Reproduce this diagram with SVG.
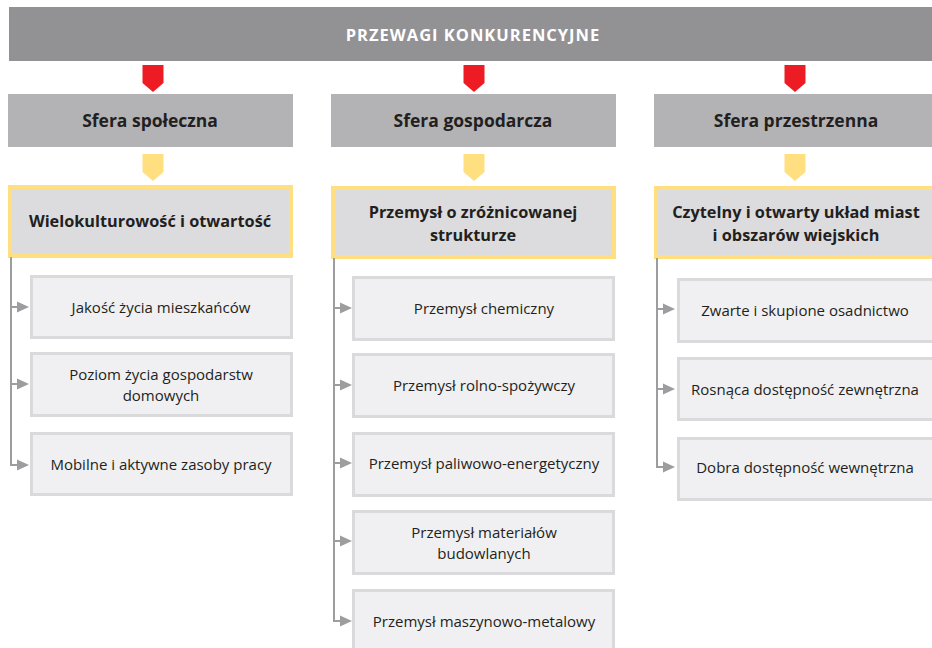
<svg xmlns="http://www.w3.org/2000/svg" width="932" height="648" viewBox="0 0 932 648">
<style>
text{font-family:"Open Sans","Noto Sans","Liberation Sans",sans-serif;fill:#231f20;text-anchor:middle;dominant-baseline:central}
.title{font-size:16.5px;font-weight:bold;fill:#ffffff;letter-spacing:1px}
.hdr{font-size:17.5px;font-weight:bold}
.key{font-size:16.3px;font-weight:bold}
.item{font-size:15px}
.hbox{fill:#b3b3b5}
.kbox{fill:#dcdcde;stroke:#ffdf7f;stroke-width:4}
.cbox{fill:#f0f0f2;stroke:#dadadc;stroke-width:3}
.red{fill:#ed1c24}
.yel{fill:#ffdf7f}
.ln{fill:none;stroke:#9d9d9f;stroke-width:2}
.ah{fill:#9d9d9f}
</style>
<defs>
<path id="redArr" class="red" d="M-10.5,65 H10.5 V83 L0,92 L-10.5,83 Z"/>
<path id="yelArr" class="yel" d="M-10.5,154 H10.5 V172 L0,181 L-10.5,172 Z"/>
<path id="tri" d="M0,-5.5 L12,0 L0,5.5 Z"/>
</defs>

<g id="top">
<rect x="9" y="7" width="923" height="54" fill="#929295"/>
<text class="title" x="473" y="34">PRZEWAGI KONKURENCYJNE</text>
</g>

<g id="arrows-red">
<use href="#redArr" x="153"/>
<use href="#redArr" x="474"/>
<use href="#redArr" x="795"/>
</g>

<g id="h1"><rect class="hbox" x="8" y="94" width="285" height="53"/><text class="hdr" x="150" y="120">Sfera społeczna</text></g>
<g id="h2"><rect class="hbox" x="331" y="94" width="285" height="53"/><text class="hdr" x="473" y="120">Sfera gospodarcza</text></g>
<g id="h3"><rect class="hbox" x="654" y="94" width="285" height="53"/><text class="hdr" x="796" y="120">Sfera przestrzenna</text></g>

<g id="arrows-yellow">
<use href="#yelArr" x="153"/>
<use href="#yelArr" x="474"/>
<use href="#yelArr" x="795"/>
</g>

<g id="k1"><rect class="kbox" x="10" y="187" width="281" height="69"/><text class="key" x="150" y="221">Wielokulturowość i otwartość</text></g>
<g id="k2"><rect class="kbox" x="333" y="188" width="281" height="69"/><text class="key" x="473" y="212">Przemysł o zróżnicowanej</text><text class="key" x="473" y="235">strukturze</text></g>
<g id="k3"><rect class="kbox" x="656" y="188" width="281" height="69"/><text class="key" x="796" y="212">Czytelny i otwarty układ miast</text><text class="key" x="796" y="235">i obszarów wiejskich</text></g>

<g id="connectors">
<path class="ln" d="M11,257 V465 H18"/>
<path class="ln" d="M11,307 H18 M11,384 H18"/>
<use href="#tri" class="ah" x="17" y="307"/>
<use href="#tri" class="ah" x="17" y="384"/>
<use href="#tri" class="ah" x="17" y="465"/>
<path class="ln" d="M334,258 V621 H341"/>
<path class="ln" d="M334,308 H341 M334,385 H341 M334,463 H341 M334,541 H341"/>
<use href="#tri" class="ah" x="340" y="308"/>
<use href="#tri" class="ah" x="340" y="385"/>
<use href="#tri" class="ah" x="340" y="463"/>
<use href="#tri" class="ah" x="340" y="541"/>
<use href="#tri" class="ah" x="340" y="621"/>
<path class="ln" d="M657,258 V467 H664"/>
<path class="ln" d="M657,309 H664 M657,389 H664"/>
<use href="#tri" class="ah" x="663" y="309"/>
<use href="#tri" class="ah" x="663" y="389"/>
<use href="#tri" class="ah" x="663" y="467"/>
</g>

<g id="c1a"><rect class="cbox" x="31.5" y="276.5" width="260" height="61"/><text class="item" x="161" y="307">Jakość życia mieszkańców</text></g>
<g id="c1b"><rect class="cbox" x="31.5" y="353.5" width="260" height="62"/><text class="item" x="161" y="374">Poziom życia gospodarstw</text><text class="item" x="161" y="395">domowych</text></g>
<g id="c1c"><rect class="cbox" x="31.5" y="433.5" width="260" height="61"/><text class="item" x="161" y="464">Mobilne i aktywne zasoby pracy</text></g>

<g id="c2a"><rect class="cbox" x="353.5" y="277.5" width="260" height="62"/><text class="item" x="484" y="308">Przemysł chemiczny</text></g>
<g id="c2b"><rect class="cbox" x="353.5" y="354.5" width="260" height="62"/><text class="item" x="484" y="385">Przemysł rolno-spożywczy</text></g>
<g id="c2c"><rect class="cbox" x="353.5" y="433.5" width="260" height="62"/><text class="item" x="484" y="463">Przemysł paliwowo-energetyczny</text></g>
<g id="c2d"><rect class="cbox" x="353.5" y="511.5" width="260" height="62"/><text class="item" x="484" y="532">Przemysł materiałów</text><text class="item" x="484" y="553">budowlanych</text></g>
<g id="c2e"><rect class="cbox" x="353.5" y="590.5" width="260" height="62"/><text class="item" x="484" y="621">Przemysł maszynowo-metalowy</text></g>

<g id="c3a"><rect class="cbox" x="678.5" y="279.5" width="260" height="62"/><text class="item" x="805" y="310">Zwarte i skupione osadnictwo</text></g>
<g id="c3b"><rect class="cbox" x="678.5" y="358.5" width="260" height="61"/><text class="item" x="805" y="389">Rosnąca dostępność zewnętrzna</text></g>
<g id="c3c"><rect class="cbox" x="678.5" y="438.5" width="260" height="61"/><text class="item" x="805" y="467">Dobra dostępność wewnętrzna</text></g>
</svg>
